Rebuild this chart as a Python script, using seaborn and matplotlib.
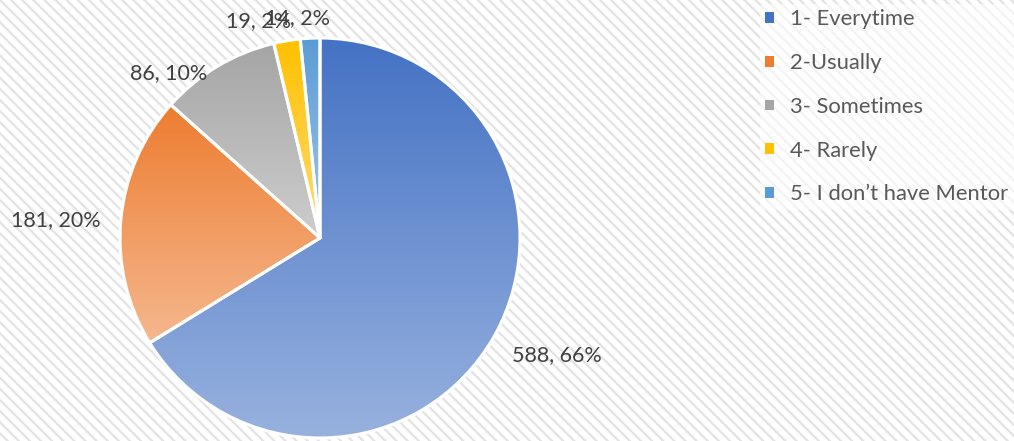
import numpy as np
import matplotlib
matplotlib.use("Agg")
import matplotlib.pyplot as plt
import matplotlib.colors as mcolors
from matplotlib.patches import Rectangle, Patch
import seaborn as sns

categories = ["1- Everytime", "2-Usually", "3- Sometimes", "4- Rarely", "5- I don\u2019t have Mentor"]
counts = [588, 181, 86, 19, 14]
percent_labels = ["66%", "20%", "10%", "2%", "2%"]
top_colors = ["#4472C4", "#ED7D31", "#A5A5A5", "#FFC000", "#5B9BD5"]

# label nudges in pixels (dx, dy; y downwards) to mimic Excel's placement
label_nudges = [(0, 10), (0, 2), (0, 24), (7, 0), (-12, 0)]

sns.set_theme(style="white")
plt.rcParams["font.family"] = ["Lato", "DejaVu Sans"]
plt.rcParams["hatch.linewidth"] = 1.6
plt.rcParams["hatch.color"] = "#e3e3e3"

W, H = 1014, 441
fig = plt.figure(figsize=(W / 100, H / 100), dpi=100)
fig.patch.set_facecolor("white")
bg = Rectangle((0, 0), 1, 1, transform=fig.transFigure, facecolor="white",
               edgecolor="#e3e3e3", hatch="\\\\\\", linewidth=0, zorder=-10)
fig.patches.append(bg)

# pie axes: center at (320, 238) px from top-left, radius 200 px
cx, cy, R = 320, 238, 200
ax = fig.add_axes([(cx - 220) / W, 0, 440 / W, 1])
ax.axis("off")
ax.patch.set_alpha(0)

palette = sns.color_palette(top_colors)
labels = [f"{c}, {p}" for c, p in zip(counts, percent_labels)]
wedges, texts = ax.pie(counts, labels=labels, startangle=90, counterclock=False,
                       colors=palette, labeldistance=1.1, radius=1.0,
                       wedgeprops=dict(edgecolor="white", linewidth=2.2),
                       textprops=dict(fontsize=15.5, color="#404040"))

for w, col in zip(wedges, top_colors):
    verts = w.get_path().vertices
    x0, x1 = verts[:, 0].min(), verts[:, 0].max()
    y0, y1 = verts[:, 1].min(), verts[:, 1].max()
    top = np.array(mcolors.to_rgb(col))
    bottom = top + (1 - top) * 0.45
    t = np.linspace(0, 1, 256)[:, None]
    grad = (top[None, :] * (1 - t) + bottom[None, :] * t)[:, None, :]
    im = ax.imshow(grad, extent=[x0, x1, y0, y1], origin="upper", aspect="auto",
                   zorder=1, interpolation="bilinear")
    im.set_clip_path(w)
    w.set_facecolor("none")
    w.set_zorder(3)

ax.set_xlim(-1.1, 1.1)
ax.set_ylim(-(H - cy) / R, cy / R)

texts[4].set_ha("center")
for t, (dx, dy) in zip(texts, label_nudges):
    x, y = t.get_position()
    t.set_position((x + dx / R, y - dy / R))

handles = [Patch(facecolor=c, edgecolor="none") for c in top_colors]
leg = fig.legend(handles, categories, loc="upper left",
                 bbox_to_anchor=(760 / W, 1 - 4 / H), frameon=True,
                 fontsize=15.8, labelcolor="#595959", handlelength=0.38,
                 handleheight=0.38, handletextpad=0.75, labelspacing=1.08,
                 borderpad=0.25, borderaxespad=0)
fr = leg.get_frame()
fr.set_facecolor("white")
fr.set_alpha(0.6)
fr.set_edgecolor("none")

fig.savefig("out.png", dpi=100)
